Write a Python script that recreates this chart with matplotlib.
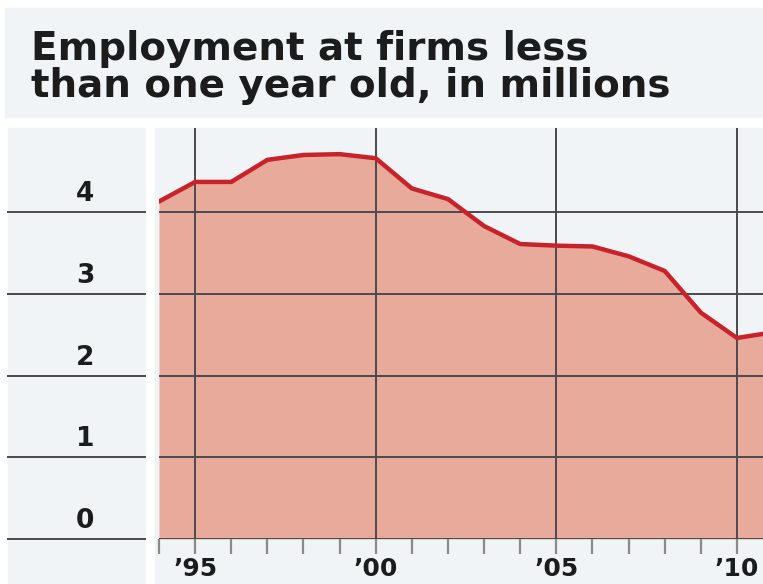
"""Employment at firms less than one year old (in millions), WSJ-style area chart."""

import matplotlib

matplotlib.use("Agg")
import matplotlib.pyplot as plt
import matplotlib.transforms as mtransforms
from matplotlib.patches import Rectangle

# Data
YEARS = [1994, 1995, 1996, 1997, 1998, 1999, 2000, 2001, 2002,
         2003, 2004, 2005, 2006, 2007, 2008, 2009, 2010, 2011]
EMPLOYMENT_M = [4.13, 4.37, 4.37, 4.64, 4.70, 4.71, 4.66, 4.29, 4.16,
                3.83, 3.61, 3.59, 3.58, 3.46, 3.28, 2.77, 2.46, 2.53]
Y_TICKS = [0, 1, 2, 3, 4]
X_TICKS = [1995, 2000, 2005, 2010]
X_TICK_LABELS = ["\u201995", "\u201900", "\u201905", "\u201910"]
TITLE = "Employment at firms less\nthan one year old, in millions"

W, H = 763, 584
PANEL = "#f1f4f7"
GRID = "#4a4a4a"
FILL = "#e8ab9b"
LINE = "#c8222b"


def fx(px):
    return px / W


def fy(py):
    return 1 - py / H


fig = plt.figure(figsize=(W / 100, H / 100), dpi=100, facecolor="white")

# background panels: title strip, y-label column, plot column
for x0, y0, x1, y1 in [(5, 8, W, 117), (8, 128, 145, H), (155, 128, W, H)]:
    fig.patches.append(Rectangle((fx(x0), fy(y1)), fx(x1) - fx(x0),
                                 fy(y0) - fy(y1), transform=fig.transFigure,
                                 color=PANEL, zorder=-2))

fig.text(fx(31), fy(30), TITLE, ha="left", va="top", fontsize=28,
         fontweight="bold", color="#1c1c1c", linespacing=0.98)

ax = fig.add_axes([fx(159), fy(539), 1 - fx(159), fy(128) - fy(539)])
ax.set_facecolor(PANEL)
for s in ax.spines.values():
    s.set_visible(False)

ax.fill_between(YEARS, EMPLOYMENT_M, 0, color=FILL, lw=0, zorder=1)
ax.plot(YEARS, EMPLOYMENT_M, color=LINE, lw=3.2, solid_joinstyle="round",
        solid_capstyle="round", zorder=3)

ax.set_xlim(1994, 2010.72)
ax.set_ylim(0, 5.03)

ax.set_xticks(X_TICKS)
ax.set_xticklabels(X_TICK_LABELS, fontsize=18, fontweight="bold",
                   color="#1c1c1c")
ax.set_xticks(range(1994, 2011), minor=True)
ax.tick_params(axis="x", which="both", direction="out", length=11, width=1.6,
               color="#8a8a8a", pad=2)
ax.set_yticks(Y_TICKS)
ax.tick_params(axis="y", which="both", length=0, labelleft=False)
ax.grid(True, which="major", color=GRID, lw=1.4, zorder=2)
ax.set_axisbelow(False)

# horizontal rules and labels continue into the left label column
trans = mtransforms.blended_transform_factory(fig.transFigure, ax.transData)
for v in Y_TICKS:
    ax.plot([fx(8), fx(145)], [v, v], transform=trans, color=GRID, lw=1.4,
            clip_on=False)
    ax.text(fx(85), v + 0.22, str(v), transform=trans, ha="center",
            va="center", fontsize=19, fontweight="bold", color="#1c1c1c")

fig.savefig("out.png", dpi=100, facecolor="white")
